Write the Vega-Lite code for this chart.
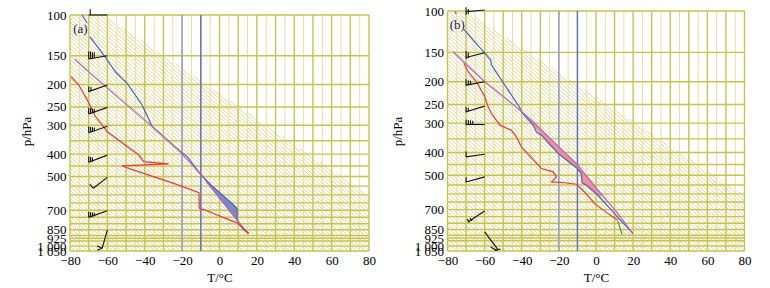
{
"$schema": "https://vega.github.io/schema/vega-lite/v6.json",
"padding": {"left": 20, "top": 5, "right": 5, "bottom": 0},
"bounds": "flush",
"spacing": 78.5,
"config": {"font": "Liberation Serif, DejaVu Serif, serif", "view": {"stroke": null},
  "axis": {"labelFont": "Liberation Serif, DejaVu Serif, serif", "titleFont": "Liberation Serif, DejaVu Serif, serif", "labelFontSize": 13, "titleFontSize": 13, "titleFontWeight": "normal", "labelColor": "#000", "titleColor": "#000", "ticks": false, "domain": false, "grid": false, "labelOverlap": false, "labelBound": false, "labelFlush": false}},
"datasets": {
 "v5": [{"T":-75},{"T":-65},{"T":-55},{"T":-45},{"T":-35},{"T":-25},{"T":-15},{"T":-5},{"T":5},{"T":15},{"T":25},{"T":35},{"T":45},{"T":55},{"T":65},{"T":75}],
 "v10": [{"T":-80},{"T":-70},{"T":-60},{"T":-50},{"T":-40},{"T":-30},{"T":-20},{"T":-10},{"T":0},{"T":10},{"T":20},{"T":30},{"T":40},{"T":50},{"T":60},{"T":70},{"T":80}],
 "h": [{"p":100},{"p":150},{"p":200},{"p":250},{"p":300},{"p":350},{"p":400},{"p":450},{"p":500},{"p":550},{"p":600},{"p":650},{"p":700},{"p":750},{"p":800},{"p":850},{"p":900},{"p":925},{"p":950},{"p":1000},{"p":1050}],
 "hatch": [{"a":-28,"b":114},{"a":-30.25,"b":111.75},{"a":-32.5,"b":109.5},{"a":-34.75,"b":107.25},{"a":-37,"b":105},{"a":-39.25,"b":102.75},{"a":-41.5,"b":100.5},{"a":-43.75,"b":98.25},{"a":-46,"b":96},{"a":-48.25,"b":93.75},{"a":-50.5,"b":91.5},{"a":-52.75,"b":89.25},{"a":-55,"b":87},{"a":-57.25,"b":84.75},{"a":-59.5,"b":82.5},{"a":-61.75,"b":80.25},{"a":-64,"b":78},{"a":-66.25,"b":75.75},{"a":-68.5,"b":73.5},{"a":-70.75,"b":71.25},{"a":-73,"b":69},{"a":-75.25,"b":66.75},{"a":-77.5,"b":64.5},{"a":-79.75,"b":62.25},{"a":-82,"b":60},{"a":-84.25,"b":57.75},{"a":-86.5,"b":55.5},{"a":-88.75,"b":53.25},{"a":-91,"b":51},{"a":-93.25,"b":48.75},{"a":-95.5,"b":46.5},{"a":-97.75,"b":44.25},{"a":-100,"b":42},{"a":-102.25,"b":39.75},{"a":-104.5,"b":37.5},{"a":-106.75,"b":35.25},{"a":-109,"b":33},{"a":-111.25,"b":30.75},{"a":-113.5,"b":28.5},{"a":-115.75,"b":26.25},{"a":-118,"b":24},{"a":-120.25,"b":21.75},{"a":-122.5,"b":19.5},{"a":-124.75,"b":17.25},{"a":-127,"b":15},{"a":-129.25,"b":12.75},{"a":-131.5,"b":10.5},{"a":-133.75,"b":8.25},{"a":-136,"b":6},{"a":-138.25,"b":3.75},{"a":-140.5,"b":1.5},{"a":-142.75,"b":-0.75},{"a":-145,"b":-3},{"a":-147.25,"b":-5.25},{"a":-149.5,"b":-7.5},{"a":-151.75,"b":-9.75},{"a":-154,"b":-12},{"a":-156.25,"b":-14.25},{"a":-158.5,"b":-16.5},{"a":-160.75,"b":-18.75},{"a":-163,"b":-21},{"a":-165.25,"b":-23.25},{"a":-167.5,"b":-25.5},{"a":-169.75,"b":-27.75},{"a":-172,"b":-30},{"a":-174.25,"b":-32.25},{"a":-176.5,"b":-34.5},{"a":-178.75,"b":-36.75},{"a":-181,"b":-39},{"a":-183.25,"b":-41.25},{"a":-185.5,"b":-43.5},{"a":-187.75,"b":-45.75},{"a":-190,"b":-48},{"a":-192.25,"b":-50.25},{"a":-194.5,"b":-52.5},{"a":-196.75,"b":-54.75},{"a":-199,"b":-57},{"a":-201.25,"b":-59.25},{"a":-203.5,"b":-61.5},{"a":-205.75,"b":-63.75},{"a":-208,"b":-66},{"a":-210.25,"b":-68.25},{"a":-212.5,"b":-70.5},{"a":-214.75,"b":-72.75},{"a":-217,"b":-75},{"a":-219.25,"b":-77.25},{"a":-221.5,"b":-79.5}],
 "maskA": [{"p":100,"lo":-62,"hi":80},{"p":601,"lo":80,"hi":80}],
 "maskB": [{"p":100,"lo":-70,"hi":80},{"p":608,"lo":80,"hi":80}],
 "bv": [{"T":-20,"s":"a"},{"T":-10,"s":"b"}],
 "linesA": [
  {"s":"T0","o":1,"T":-73.5,"p":100},{"s":"T0","o":2,"T":-70.8,"p":108.6},
  {"s":"T","o":1,"T":-69.4,"p":124},{"s":"T","o":2,"T":-61.9,"p":149},{"s":"T","o":3,"T":-55.7,"p":176},{"s":"T","o":4,"T":-49.4,"p":197.5},{"s":"T","o":5,"T":-41.4,"p":245},{"s":"T","o":6,"T":-36,"p":304},{"s":"T","o":7,"T":-20.9,"p":390},{"s":"T","o":8,"T":-17.3,"p":410},{"s":"T","o":9,"T":-10.2,"p":488},{"s":"T","o":10,"T":-4.5,"p":544},{"s":"T","o":11,"T":6.7,"p":653},{"s":"T","o":12,"T":9.4,"p":686},{"s":"T","o":13,"T":9.4,"p":771},{"s":"T","o":14,"T":12.9,"p":851},{"s":"T","o":15,"T":15.6,"p":880},
  {"s":"P","o":1,"T":-77.4,"p":155.5},{"s":"P","o":2,"T":-69,"p":178.8},{"s":"P","o":3,"T":-36,"p":304},{"s":"P","o":4,"T":-20.9,"p":392},{"s":"P","o":5,"T":-10.2,"p":488},{"s":"P","o":6,"T":15.2,"p":882},
  {"s":"D","o":1,"T":-79.4,"p":185},{"s":"D","o":2,"T":-75.3,"p":201},{"s":"D","o":3,"T":-70.8,"p":233},{"s":"D","o":4,"T":-66.4,"p":275},{"s":"D","o":5,"T":-62.8,"p":299},{"s":"D","o":6,"T":-60.1,"p":320},{"s":"D","o":7,"T":-43.2,"p":403.5},{"s":"D","o":8,"T":-40.5,"p":431},{"s":"D","o":9,"T":-27.2,"p":441},{"s":"D","o":10,"T":-52.1,"p":450},{"s":"D","o":11,"T":-45.9,"p":469},{"s":"D","o":12,"T":-24.5,"p":535},{"s":"D","o":13,"T":-11,"p":587},{"s":"D","o":14,"T":-10.8,"p":686},{"s":"D","o":15,"T":-7.5,"p":700},{"s":"D","o":16,"T":7.6,"p":784},{"s":"D","o":17,"T":9.4,"p":792},{"s":"D","o":18,"T":15.6,"p":880}
 ],
 "linesB": [
  {"s":"T0","o":1,"T":-76,"p":100.5},{"s":"T0","o":2,"T":-75.2,"p":103},
  {"s":"T","o":1,"T":-71.2,"p":119.7},{"s":"T","o":2,"T":-60.3,"p":150},{"s":"T","o":3,"T":-56.7,"p":161.8},{"s":"T","o":4,"T":-56.3,"p":169.9},{"s":"T","o":5,"T":-41.1,"p":257.3},{"s":"T","o":6,"T":-40.2,"p":268.5},{"s":"T","o":7,"T":-33.9,"p":306},{"s":"T","o":8,"T":-32.1,"p":326.8},{"s":"T","o":9,"T":-29.4,"p":337.6},{"s":"T","o":10,"T":-20.4,"p":404},{"s":"T","o":11,"T":-10,"p":468},{"s":"T","o":12,"T":-7.9,"p":491.8},{"s":"T","o":13,"T":-7.5,"p":539},{"s":"T","o":14,"T":-5.6,"p":547.8},{"s":"T","o":15,"T":1.1,"p":608},{"s":"T","o":16,"T":10,"p":728},{"s":"T","o":17,"T":19.9,"p":886},
  {"s":"P","o":1,"T":-77,"p":149},{"s":"P","o":2,"T":-59.9,"p":200},{"s":"P","o":3,"T":-40.2,"p":266.8},{"s":"P","o":4,"T":-33.9,"p":296},{"s":"P","o":5,"T":-20.4,"p":376},{"s":"P","o":6,"T":-9.7,"p":453},{"s":"P","o":7,"T":-6.1,"p":491.8},{"s":"P","o":8,"T":1.1,"p":579},{"s":"P","o":9,"T":11.8,"p":728},{"s":"P","o":10,"T":19.9,"p":886},
  {"s":"D","o":1,"T":-71.2,"p":167},{"s":"D","o":2,"T":-68.9,"p":181.4},{"s":"D","o":3,"T":-64.4,"p":200},{"s":"D","o":4,"T":-59.9,"p":231.7},{"s":"D","o":5,"T":-58.1,"p":255.7},{"s":"D","o":6,"T":-56.3,"p":273},{"s":"D","o":7,"T":-51.8,"p":306},{"s":"D","o":8,"T":-45.6,"p":321.5},{"s":"D","o":9,"T":-42.9,"p":343},{"s":"D","o":10,"T":-40.2,"p":378.5},{"s":"D","o":11,"T":-36.6,"p":406.7},{"s":"D","o":12,"T":-29.4,"p":468},{"s":"D","o":13,"T":-23.1,"p":483.7},{"s":"D","o":14,"T":-21.3,"p":508},{"s":"D","o":15,"T":-24,"p":533.6},{"s":"D","o":16,"T":-16.9,"p":538},{"s":"D","o":17,"T":-10.6,"p":546},{"s":"D","o":18,"T":-7,"p":579},{"s":"D","o":19,"T":-0.7,"p":660},{"s":"D","o":20,"T":6.5,"p":728},{"s":"D","o":21,"T":11.8,"p":777},
  {"s":"G","o":1,"T":11.8,"p":784},{"s":"G","o":2,"T":14,"p":892}
 ],
 "areaA": [{"p":488,"lo":-10.2,"hi":-10.2},{"p":544,"lo":-5.9,"hi":-4.5},{"p":653,"lo":1.9,"hi":6.7},{"p":686,"lo":4,"hi":9.4},{"p":771,"lo":9,"hi":9.4},{"p":795,"lo":10.6,"hi":10.6}],
 "areaB": [{"p":268,"lo":-40.2,"hi":-40.2},{"p":296,"lo":-35.5,"hi":-33.9},{"p":306,"lo":-33.9,"hi":-32},{"p":337.6,"lo":-29.4,"hi":-26.5},{"p":376,"lo":-24,"hi":-20.4},{"p":404,"lo":-20.4,"hi":-16.3},{"p":453,"lo":-12.3,"hi":-9.7},{"p":468,"lo":-10,"hi":-8.3},{"p":491.8,"lo":-7.9,"hi":-6.1},{"p":539,"lo":-7.5,"hi":-2.1},{"p":547.8,"lo":-5.6,"hi":-1.3},{"p":579,"lo":-2,"hi":1.1},{"p":608,"lo":1.1,"hi":3.4},{"p":615,"lo":2.2,"hi":2.2}],
 "barbA": [
  {"x1":-70,"p1":100,"x2":-60,"p2":100},{"x1":-69.2,"p1":94.5,"x2":-69.2,"p2":100},
  {"x1":-70,"p1":155,"x2":-60,"p2":150},{"x1":-70,"p1":144,"x2":-70,"p2":155},{"x1":-69,"p1":144,"x2":-69,"p2":154.5},{"x1":-68,"p1":145,"x2":-68,"p2":154},{"x1":-67,"p1":145,"x2":-67,"p2":153.5},
  {"x1":-70,"p1":214.6,"x2":-60,"p2":201},{"x1":-70,"p1":204,"x2":-70,"p2":214.6},{"x1":-68.8,"p1":205,"x2":-68.8,"p2":213},
  {"x1":-70,"p1":268,"x2":-60,"p2":251},{"x1":-70,"p1":252,"x2":-70,"p2":268},{"x1":-69,"p1":253,"x2":-69,"p2":267},{"x1":-68,"p1":254,"x2":-68,"p2":266},{"x1":-67,"p1":255,"x2":-67,"p2":265},
  {"x1":-70,"p1":323,"x2":-60,"p2":303},{"x1":-70,"p1":304,"x2":-70,"p2":323},{"x1":-69,"p1":305,"x2":-69,"p2":322},{"x1":-68,"p1":306,"x2":-68,"p2":321},{"x1":-67,"p1":307,"x2":-67,"p2":320},
  {"x1":-70,"p1":434,"x2":-60,"p2":404},{"x1":-70,"p1":410,"x2":-70,"p2":434},{"x1":-69,"p1":412,"x2":-69,"p2":432},{"x1":-68,"p1":414,"x2":-68,"p2":430},
  {"x1":-67.6,"p1":562,"x2":-60,"p2":504},{"x1":-67.6,"p1":562,"x2":-69.4,"p2":539},
  {"x1":-70,"p1":751,"x2":-60,"p2":703},{"x1":-70,"p1":712,"x2":-70,"p2":751},{"x1":-69,"p1":714,"x2":-69,"p2":748},{"x1":-68,"p1":716,"x2":-68,"p2":745},{"x1":-67,"p1":718,"x2":-67,"p2":742},
  {"x1":-62.8,"p1":1022,"x2":-60,"p2":851},{"x1":-65.5,"p1":1000,"x2":-62.8,"p2":1022},{"x1":-65.5,"p1":1042,"x2":-62.8,"p2":1022}
 ],
 "barbB": [
  {"x1":-70,"p1":100.7,"x2":-60,"p2":99},{"x1":-70,"p1":96.5,"x2":-70,"p2":104},{"x1":-68.8,"p1":98,"x2":-68.8,"p2":103},
  {"x1":-70,"p1":157.6,"x2":-60,"p2":150.5},{"x1":-70,"p1":148,"x2":-70,"p2":160},{"x1":-68.8,"p1":150,"x2":-68.8,"p2":159},
  {"x1":-70,"p1":206.7,"x2":-60,"p2":200},{"x1":-70,"p1":195,"x2":-70,"p2":208},{"x1":-68.8,"p1":197,"x2":-68.8,"p2":207},{"x1":-67.6,"p1":198,"x2":-67.6,"p2":206},
  {"x1":-70,"p1":268.5,"x2":-60,"p2":254},{"x1":-70,"p1":256,"x2":-70,"p2":270},{"x1":-68.8,"p1":258,"x2":-68.8,"p2":268},
  {"x1":-70,"p1":304,"x2":-60,"p2":304},{"x1":-70,"p1":290,"x2":-70,"p2":306},{"x1":-68.8,"p1":291,"x2":-68.8,"p2":305},{"x1":-67.6,"p1":292,"x2":-67.6,"p2":305},{"x1":-66.4,"p1":293,"x2":-66.4,"p2":305},
  {"x1":-70,"p1":417.5,"x2":-60,"p2":406.7},{"x1":-70,"p1":396,"x2":-70,"p2":418},
  {"x1":-70,"p1":533.6,"x2":-60,"p2":508},{"x1":-70,"p1":510,"x2":-70,"p2":535},
  {"x1":-69,"p1":790,"x2":-60,"p2":709.6},{"x1":-69.5,"p1":768,"x2":-68.2,"p2":792},{"x1":-68,"p1":760,"x2":-66.7,"p2":782},
  {"x1":-60,"p1":871,"x2":-52.8,"p2":1036},{"x1":-56.7,"p1":1010,"x2":-53.5,"p2":1045},{"x1":-54.5,"p1":1046,"x2":-51.5,"p2":1030}
 ],
 "labA": [{"lab":"(a)","T":-74.4,"p":115}],
 "labB": [{"lab":"(b)","T":-74.7,"p":114.7}]
},
"hconcat": [
 {
  "width": 299, "height": 240,
  "layer": [
   {"data":{"name":"hatch"},"mark":{"type":"rule","color":"#d9d68a","strokeWidth":0.9,"clip":true},
    "encoding":{"x":{"field":"a","type":"quantitative","scale":{"domain":[-80,80],"nice":false,"zero":false},"axis":{"values":[-80,-60,-40,-20,0,20,40,60,80],"title":"T/°C","labelPadding":3,"titlePadding":4}},"x2":{"field":"b"},"y":{"datum":100,"type":"quantitative","scale":{"type":"log","domain":[96.09,1050],"reverse":true,"nice":false},"axis":{"values":[100,150,200,250,300,400,500,700,850,925,1000,1050],"labelExpr":"datum.value == 1000 ? '1 000' : datum.value == 1050 ? '1 050' : '' + datum.value","title":"p/hPa","labelPadding":4,"titlePadding":3}},"y2":{"datum":1050}}},
   {"data":{"name":"maskA"},"mark":{"type":"area","orient":"horizontal","color":"#ffffff","opacity":1},
    "encoding":{"y":{"field":"p","type":"quantitative","scale":{"type":"log","domain":[96.09,1050],"reverse":true,"nice":false},"axis":{"values":[100,150,200,250,300,400,500,700,850,925,1000,1050],"labelExpr":"datum.value == 1000 ? '1 000' : datum.value == 1050 ? '1 050' : '' + datum.value","title":"p/hPa","labelPadding":4,"titlePadding":3}},"x":{"field":"lo","type":"quantitative","scale":{"domain":[-80,80],"nice":false,"zero":false},"axis":{"values":[-80,-60,-40,-20,0,20,40,60,80],"title":"T/°C","labelPadding":3,"titlePadding":4}},"x2":{"field":"hi"}}},
   {"data":{"name":"v5"},"mark":{"type":"rule","color":"#e3e1a6","strokeWidth":1},
    "encoding":{"x":{"field":"T","type":"quantitative","scale":{"domain":[-80,80],"nice":false,"zero":false},"axis":{"values":[-80,-60,-40,-20,0,20,40,60,80],"title":"T/°C","labelPadding":3,"titlePadding":4}},"y":{"datum":100,"type":"quantitative","scale":{"type":"log","domain":[96.09,1050],"reverse":true,"nice":false},"axis":{"values":[100,150,200,250,300,400,500,700,850,925,1000,1050],"labelExpr":"datum.value == 1000 ? '1 000' : datum.value == 1050 ? '1 050' : '' + datum.value","title":"p/hPa","labelPadding":4,"titlePadding":3}},"y2":{"datum":1050}}},
   {"data":{"name":"v10"},"mark":{"type":"rule","color":"#c9c34e","strokeWidth":1.4},
    "encoding":{"x":{"field":"T","type":"quantitative","scale":{"domain":[-80,80],"nice":false,"zero":false},"axis":{"values":[-80,-60,-40,-20,0,20,40,60,80],"title":"T/°C","labelPadding":3,"titlePadding":4}},"y":{"datum":100,"type":"quantitative","scale":{"type":"log","domain":[96.09,1050],"reverse":true,"nice":false},"axis":{"values":[100,150,200,250,300,400,500,700,850,925,1000,1050],"labelExpr":"datum.value == 1000 ? '1 000' : datum.value == 1050 ? '1 050' : '' + datum.value","title":"p/hPa","labelPadding":4,"titlePadding":3}},"y2":{"datum":1050}}},
   {"data":{"name":"h"},"mark":{"type":"rule","color":"#c9c34e","strokeWidth":1.4},
    "encoding":{"y":{"field":"p","type":"quantitative","scale":{"type":"log","domain":[96.09,1050],"reverse":true,"nice":false},"axis":{"values":[100,150,200,250,300,400,500,700,850,925,1000,1050],"labelExpr":"datum.value == 1000 ? '1 000' : datum.value == 1050 ? '1 050' : '' + datum.value","title":"p/hPa","labelPadding":4,"titlePadding":3}},"x":{"datum":-80,"type":"quantitative","scale":{"domain":[-80,80],"nice":false,"zero":false},"axis":{"values":[-80,-60,-40,-20,0,20,40,60,80],"title":"T/°C","labelPadding":3,"titlePadding":4}},"x2":{"datum":80}}},
   {"data":{"name":"bv"},"mark":{"type":"rule","strokeWidth":1.3},
    "encoding":{"x":{"field":"T","type":"quantitative","scale":{"domain":[-80,80],"nice":false,"zero":false},"axis":{"values":[-80,-60,-40,-20,0,20,40,60,80],"title":"T/°C","labelPadding":3,"titlePadding":4}},"y":{"datum":100,"type":"quantitative","scale":{"type":"log","domain":[96.09,1050],"reverse":true,"nice":false},"axis":{"values":[100,150,200,250,300,400,500,700,850,925,1000,1050],"labelExpr":"datum.value == 1000 ? '1 000' : datum.value == 1050 ? '1 050' : '' + datum.value","title":"p/hPa","labelPadding":4,"titlePadding":3}},"y2":{"datum":1050},"color":{"field":"s","type":"nominal","scale":{"domain":["a","b","T0","T","P","D","G"],"range":["#8d98e0","#5a6bd6","#4a63c4","#4a63c4","#b565c4","#f2353d","#3c9c3c"]},"legend":null}}},
   {"data":{"name":"areaA"},"mark":{"type":"area","orient":"horizontal","color":"#737cbf","opacity":0.9},
    "encoding":{"y":{"field":"p","type":"quantitative","scale":{"type":"log","domain":[96.09,1050],"reverse":true,"nice":false},"axis":{"values":[100,150,200,250,300,400,500,700,850,925,1000,1050],"labelExpr":"datum.value == 1000 ? '1 000' : datum.value == 1050 ? '1 050' : '' + datum.value","title":"p/hPa","labelPadding":4,"titlePadding":3}},"x":{"field":"lo","type":"quantitative","scale":{"domain":[-80,80],"nice":false,"zero":false},"axis":{"values":[-80,-60,-40,-20,0,20,40,60,80],"title":"T/°C","labelPadding":3,"titlePadding":4}},"x2":{"field":"hi"}}},
   {"data":{"name":"linesA"},"mark":{"type":"line","strokeWidth":1.2},
    "encoding":{"x":{"field":"T","type":"quantitative","scale":{"domain":[-80,80],"nice":false,"zero":false},"axis":{"values":[-80,-60,-40,-20,0,20,40,60,80],"title":"T/°C","labelPadding":3,"titlePadding":4}},"y":{"field":"p","type":"quantitative","scale":{"type":"log","domain":[96.09,1050],"reverse":true,"nice":false},"axis":{"values":[100,150,200,250,300,400,500,700,850,925,1000,1050],"labelExpr":"datum.value == 1000 ? '1 000' : datum.value == 1050 ? '1 050' : '' + datum.value","title":"p/hPa","labelPadding":4,"titlePadding":3}},"color":{"field":"s","type":"nominal","scale":{"domain":["a","b","T0","T","P","D","G"],"range":["#8d98e0","#5a6bd6","#4a63c4","#4a63c4","#b565c4","#f2353d","#3c9c3c"]},"legend":null},"order":{"field":"o","type":"quantitative"}}},
   {"data":{"name":"barbA"},"mark":{"type":"rule","color":"#111","strokeWidth":1.1},
    "encoding":{"x":{"field":"x1","type":"quantitative","scale":{"domain":[-80,80],"nice":false,"zero":false},"axis":{"values":[-80,-60,-40,-20,0,20,40,60,80],"title":"T/°C","labelPadding":3,"titlePadding":4}},"x2":{"field":"x2"},"y":{"field":"p1","type":"quantitative","scale":{"type":"log","domain":[96.09,1050],"reverse":true,"nice":false},"axis":{"values":[100,150,200,250,300,400,500,700,850,925,1000,1050],"labelExpr":"datum.value == 1000 ? '1 000' : datum.value == 1050 ? '1 050' : '' + datum.value","title":"p/hPa","labelPadding":4,"titlePadding":3}},"y2":{"field":"p2"}}},
   {"data":{"name":"labA"},"mark":{"type":"text","fontSize":13,"color":"#1c2050"},
    "encoding":{"x":{"field":"T","type":"quantitative","scale":{"domain":[-80,80],"nice":false,"zero":false},"axis":{"values":[-80,-60,-40,-20,0,20,40,60,80],"title":"T/°C","labelPadding":3,"titlePadding":4}},"y":{"field":"p","type":"quantitative","scale":{"type":"log","domain":[96.09,1050],"reverse":true,"nice":false},"axis":{"values":[100,150,200,250,300,400,500,700,850,925,1000,1050],"labelExpr":"datum.value == 1000 ? '1 000' : datum.value == 1050 ? '1 050' : '' + datum.value","title":"p/hPa","labelPadding":4,"titlePadding":3}},"text":{"field":"lab"}}}
  ]
 },
 {
  "width": 297, "height": 240,
  "layer": [
   {"data":{"name":"hatch"},"mark":{"type":"rule","color":"#d9d68a","strokeWidth":0.9,"clip":true},
    "encoding":{"x":{"field":"a","type":"quantitative","scale":{"domain":[-80,80],"nice":false,"zero":false},"axis":{"values":[-80,-60,-40,-20,0,20,40,60,80],"title":"T/°C","labelPadding":3,"titlePadding":4}},"x2":{"field":"b"},"y":{"datum":100,"type":"quantitative","scale":{"type":"log","domain":[100,1050],"reverse":true,"nice":false},"axis":{"values":[100,150,200,250,300,400,500,700,850,925,1000,1050],"labelExpr":"datum.value == 1000 ? '1 000' : datum.value == 1050 ? '1 050' : '' + datum.value","title":"p/hPa","labelPadding":4,"titlePadding":10}},"y2":{"datum":1050}}},
   {"data":{"name":"maskB"},"mark":{"type":"area","orient":"horizontal","color":"#ffffff","opacity":1},
    "encoding":{"y":{"field":"p","type":"quantitative","scale":{"type":"log","domain":[100,1050],"reverse":true,"nice":false},"axis":{"values":[100,150,200,250,300,400,500,700,850,925,1000,1050],"labelExpr":"datum.value == 1000 ? '1 000' : datum.value == 1050 ? '1 050' : '' + datum.value","title":"p/hPa","labelPadding":4,"titlePadding":10}},"x":{"field":"lo","type":"quantitative","scale":{"domain":[-80,80],"nice":false,"zero":false},"axis":{"values":[-80,-60,-40,-20,0,20,40,60,80],"title":"T/°C","labelPadding":3,"titlePadding":4}},"x2":{"field":"hi"}}},
   {"data":{"name":"v5"},"mark":{"type":"rule","color":"#e3e1a6","strokeWidth":1},
    "encoding":{"x":{"field":"T","type":"quantitative","scale":{"domain":[-80,80],"nice":false,"zero":false},"axis":{"values":[-80,-60,-40,-20,0,20,40,60,80],"title":"T/°C","labelPadding":3,"titlePadding":4}},"y":{"datum":100,"type":"quantitative","scale":{"type":"log","domain":[100,1050],"reverse":true,"nice":false},"axis":{"values":[100,150,200,250,300,400,500,700,850,925,1000,1050],"labelExpr":"datum.value == 1000 ? '1 000' : datum.value == 1050 ? '1 050' : '' + datum.value","title":"p/hPa","labelPadding":4,"titlePadding":10}},"y2":{"datum":1050}}},
   {"data":{"name":"v10"},"mark":{"type":"rule","color":"#c9c34e","strokeWidth":1.4},
    "encoding":{"x":{"field":"T","type":"quantitative","scale":{"domain":[-80,80],"nice":false,"zero":false},"axis":{"values":[-80,-60,-40,-20,0,20,40,60,80],"title":"T/°C","labelPadding":3,"titlePadding":4}},"y":{"datum":100,"type":"quantitative","scale":{"type":"log","domain":[100,1050],"reverse":true,"nice":false},"axis":{"values":[100,150,200,250,300,400,500,700,850,925,1000,1050],"labelExpr":"datum.value == 1000 ? '1 000' : datum.value == 1050 ? '1 050' : '' + datum.value","title":"p/hPa","labelPadding":4,"titlePadding":10}},"y2":{"datum":1050}}},
   {"data":{"name":"h"},"mark":{"type":"rule","color":"#c9c34e","strokeWidth":1.4},
    "encoding":{"y":{"field":"p","type":"quantitative","scale":{"type":"log","domain":[100,1050],"reverse":true,"nice":false},"axis":{"values":[100,150,200,250,300,400,500,700,850,925,1000,1050],"labelExpr":"datum.value == 1000 ? '1 000' : datum.value == 1050 ? '1 050' : '' + datum.value","title":"p/hPa","labelPadding":4,"titlePadding":10}},"x":{"datum":-80,"type":"quantitative","scale":{"domain":[-80,80],"nice":false,"zero":false},"axis":{"values":[-80,-60,-40,-20,0,20,40,60,80],"title":"T/°C","labelPadding":3,"titlePadding":4}},"x2":{"datum":80}}},
   {"data":{"name":"bv"},"mark":{"type":"rule","strokeWidth":1.3},
    "encoding":{"x":{"field":"T","type":"quantitative","scale":{"domain":[-80,80],"nice":false,"zero":false},"axis":{"values":[-80,-60,-40,-20,0,20,40,60,80],"title":"T/°C","labelPadding":3,"titlePadding":4}},"y":{"datum":100,"type":"quantitative","scale":{"type":"log","domain":[100,1050],"reverse":true,"nice":false},"axis":{"values":[100,150,200,250,300,400,500,700,850,925,1000,1050],"labelExpr":"datum.value == 1000 ? '1 000' : datum.value == 1050 ? '1 050' : '' + datum.value","title":"p/hPa","labelPadding":4,"titlePadding":10}},"y2":{"datum":1050},"color":{"field":"s","type":"nominal","scale":{"domain":["a","b","T0","T","P","D","G"],"range":["#8d98e0","#5a6bd6","#4a63c4","#4a63c4","#b565c4","#f2353d","#3c9c3c"]},"legend":null}}},
   {"data":{"name":"areaB"},"mark":{"type":"area","orient":"horizontal","color":"#f08596","opacity":0.9},
    "encoding":{"y":{"field":"p","type":"quantitative","scale":{"type":"log","domain":[100,1050],"reverse":true,"nice":false},"axis":{"values":[100,150,200,250,300,400,500,700,850,925,1000,1050],"labelExpr":"datum.value == 1000 ? '1 000' : datum.value == 1050 ? '1 050' : '' + datum.value","title":"p/hPa","labelPadding":4,"titlePadding":10}},"x":{"field":"lo","type":"quantitative","scale":{"domain":[-80,80],"nice":false,"zero":false},"axis":{"values":[-80,-60,-40,-20,0,20,40,60,80],"title":"T/°C","labelPadding":3,"titlePadding":4}},"x2":{"field":"hi"}}},
   {"data":{"name":"linesB"},"mark":{"type":"line","strokeWidth":1.2},
    "encoding":{"x":{"field":"T","type":"quantitative","scale":{"domain":[-80,80],"nice":false,"zero":false},"axis":{"values":[-80,-60,-40,-20,0,20,40,60,80],"title":"T/°C","labelPadding":3,"titlePadding":4}},"y":{"field":"p","type":"quantitative","scale":{"type":"log","domain":[100,1050],"reverse":true,"nice":false},"axis":{"values":[100,150,200,250,300,400,500,700,850,925,1000,1050],"labelExpr":"datum.value == 1000 ? '1 000' : datum.value == 1050 ? '1 050' : '' + datum.value","title":"p/hPa","labelPadding":4,"titlePadding":10}},"color":{"field":"s","type":"nominal","scale":{"domain":["a","b","T0","T","P","D","G"],"range":["#8d98e0","#5a6bd6","#4a63c4","#4a63c4","#b565c4","#f2353d","#3c9c3c"]},"legend":null},"order":{"field":"o","type":"quantitative"}}},
   {"data":{"name":"barbB"},"mark":{"type":"rule","color":"#111","strokeWidth":1.1},
    "encoding":{"x":{"field":"x1","type":"quantitative","scale":{"domain":[-80,80],"nice":false,"zero":false},"axis":{"values":[-80,-60,-40,-20,0,20,40,60,80],"title":"T/°C","labelPadding":3,"titlePadding":4}},"x2":{"field":"x2"},"y":{"field":"p1","type":"quantitative","scale":{"type":"log","domain":[100,1050],"reverse":true,"nice":false},"axis":{"values":[100,150,200,250,300,400,500,700,850,925,1000,1050],"labelExpr":"datum.value == 1000 ? '1 000' : datum.value == 1050 ? '1 050' : '' + datum.value","title":"p/hPa","labelPadding":4,"titlePadding":10}},"y2":{"field":"p2"}}},
   {"data":{"name":"labB"},"mark":{"type":"text","fontSize":13,"color":"#1c2050"},
    "encoding":{"x":{"field":"T","type":"quantitative","scale":{"domain":[-80,80],"nice":false,"zero":false},"axis":{"values":[-80,-60,-40,-20,0,20,40,60,80],"title":"T/°C","labelPadding":3,"titlePadding":4}},"y":{"field":"p","type":"quantitative","scale":{"type":"log","domain":[100,1050],"reverse":true,"nice":false},"axis":{"values":[100,150,200,250,300,400,500,700,850,925,1000,1050],"labelExpr":"datum.value == 1000 ? '1 000' : datum.value == 1050 ? '1 050' : '' + datum.value","title":"p/hPa","labelPadding":4,"titlePadding":10}},"text":{"field":"lab"}}}
  ]
 }
]
}
